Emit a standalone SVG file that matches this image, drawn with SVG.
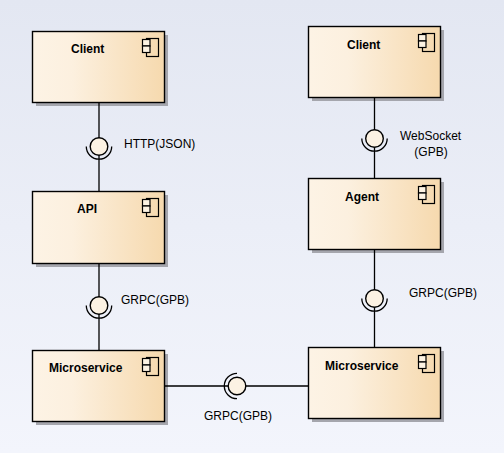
<svg xmlns="http://www.w3.org/2000/svg" width="504" height="453" viewBox="0 0 504 453">
<style>
.box{fill:url(#nodeFill);stroke:#000;stroke-width:1.4}
.shadow{fill:#a5a6ad}
.ico{fill:none;stroke:#000;stroke-width:1.2}
.ico2{fill:#fdf3e3;stroke:#000;stroke-width:1.2}
.name{font:bold 12px "Liberation Sans",Arial,sans-serif;fill:#000}
.lab{font:12px "Liberation Sans",Arial,sans-serif;fill:#000}
.wire{fill:none;stroke:#000;stroke-width:1.3}
.ball{fill:#fcf2e3;stroke:#000;stroke-width:1.4}
</style>
<defs>
<linearGradient id="bg" x1="0" y1="0" x2="0" y2="1"><stop offset="0" stop-color="#e3e7f2"/><stop offset="1" stop-color="#f3f5fc"/></linearGradient>
<linearGradient id="nodeFill" x1="0" y1="0" x2="1" y2="0"><stop offset="0" stop-color="#fdf3e5"/><stop offset="0.3" stop-color="#fcf0df"/><stop offset="1" stop-color="#f6d9ae"/></linearGradient>
<g id="icon"><rect class="ico" x="0" y="0" width="12" height="18"/><rect class="ico2" x="-4" y="1" width="7.500" height="6.500"/><rect class="ico2" x="-4" y="7.500" width="7.500" height="6.500"/></g>
</defs>
<rect width="504" height="453" fill="url(#bg)"/>
<g id="client-left"><rect class="shadow" x="36" y="35" width="132" height="71"/><rect class="box" x="32.500" y="31.500" width="132" height="71"/><use href="#icon" x="146.500" y="38.500"/><text class="name" x="71" y="53">Client</text></g>
<g id="api"><rect class="shadow" x="36" y="195" width="132" height="72"/><rect class="box" x="32.500" y="191.500" width="132" height="72"/><use href="#icon" x="146.500" y="198.500"/><text class="name" x="77" y="213">API</text></g>
<g id="microservice-left"><rect class="shadow" x="36" y="354" width="132" height="71"/><rect class="box" x="32.500" y="350.500" width="132" height="71"/><use href="#icon" x="146.500" y="357.500"/><text class="name" x="49" y="372">Microservice</text></g>
<g id="client-right"><rect class="shadow" x="312" y="30" width="132" height="71"/><rect class="box" x="308.500" y="26.500" width="132" height="71"/><use href="#icon" x="422.500" y="33.500"/><text class="name" x="347" y="49">Client</text></g>
<g id="agent"><rect class="shadow" x="312" y="182" width="132" height="71"/><rect class="box" x="308.500" y="178.500" width="132" height="71"/><use href="#icon" x="422.500" y="185.500"/><text class="name" x="345" y="201">Agent</text></g>
<g id="microservice-right"><rect class="shadow" x="312" y="351" width="132" height="71"/><rect class="box" x="308.500" y="347.500" width="132" height="71"/><use href="#icon" x="422.500" y="354.500"/><text class="name" x="325" y="370">Microservice</text></g>
<g id="connectors">
<path class="wire" d="M99 103V191M99 264V350M374.500 98V178M374.500 250V347M165 386H308"/>
</g>
<g id="iface-http"><circle class="ball" cx="99" cy="146.500" r="8.800"/><path class="wire" d="M86.300 146.500A12.700 12.700 0 0 0 111.700 146.500"/><text class="lab" x="124" y="148">HTTP(JSON)</text></g>
<g id="iface-grpc-left"><circle class="ball" cx="99" cy="305.500" r="8.800"/><path class="wire" d="M86.300 305.500A12.700 12.700 0 0 0 111.700 305.500"/><text class="lab" x="121" y="304">GRPC(GPB)</text></g>
<g id="iface-ws"><circle class="ball" cx="374.500" cy="138.500" r="8.800"/><path class="wire" d="M361.800 138.500A12.700 12.700 0 0 0 387.200 138.500"/><text class="lab" x="400" y="140">WebSocket</text><text class="lab" x="431" y="156" text-anchor="middle">(GPB)</text></g>
<g id="iface-grpc-right"><circle class="ball" cx="374.500" cy="298.500" r="8.800"/><path class="wire" d="M361.800 298.500A12.700 12.700 0 0 0 387.200 298.500"/><text class="lab" x="409" y="297">GRPC(GPB)</text></g>
<g id="iface-grpc-bottom"><circle class="ball" cx="237" cy="386" r="8.800"/><path class="wire" d="M237 373.300A12.700 12.700 0 0 0 237 398.700"/><text class="lab" x="204" y="420">GRPC(GPB)</text></g>
</svg>
